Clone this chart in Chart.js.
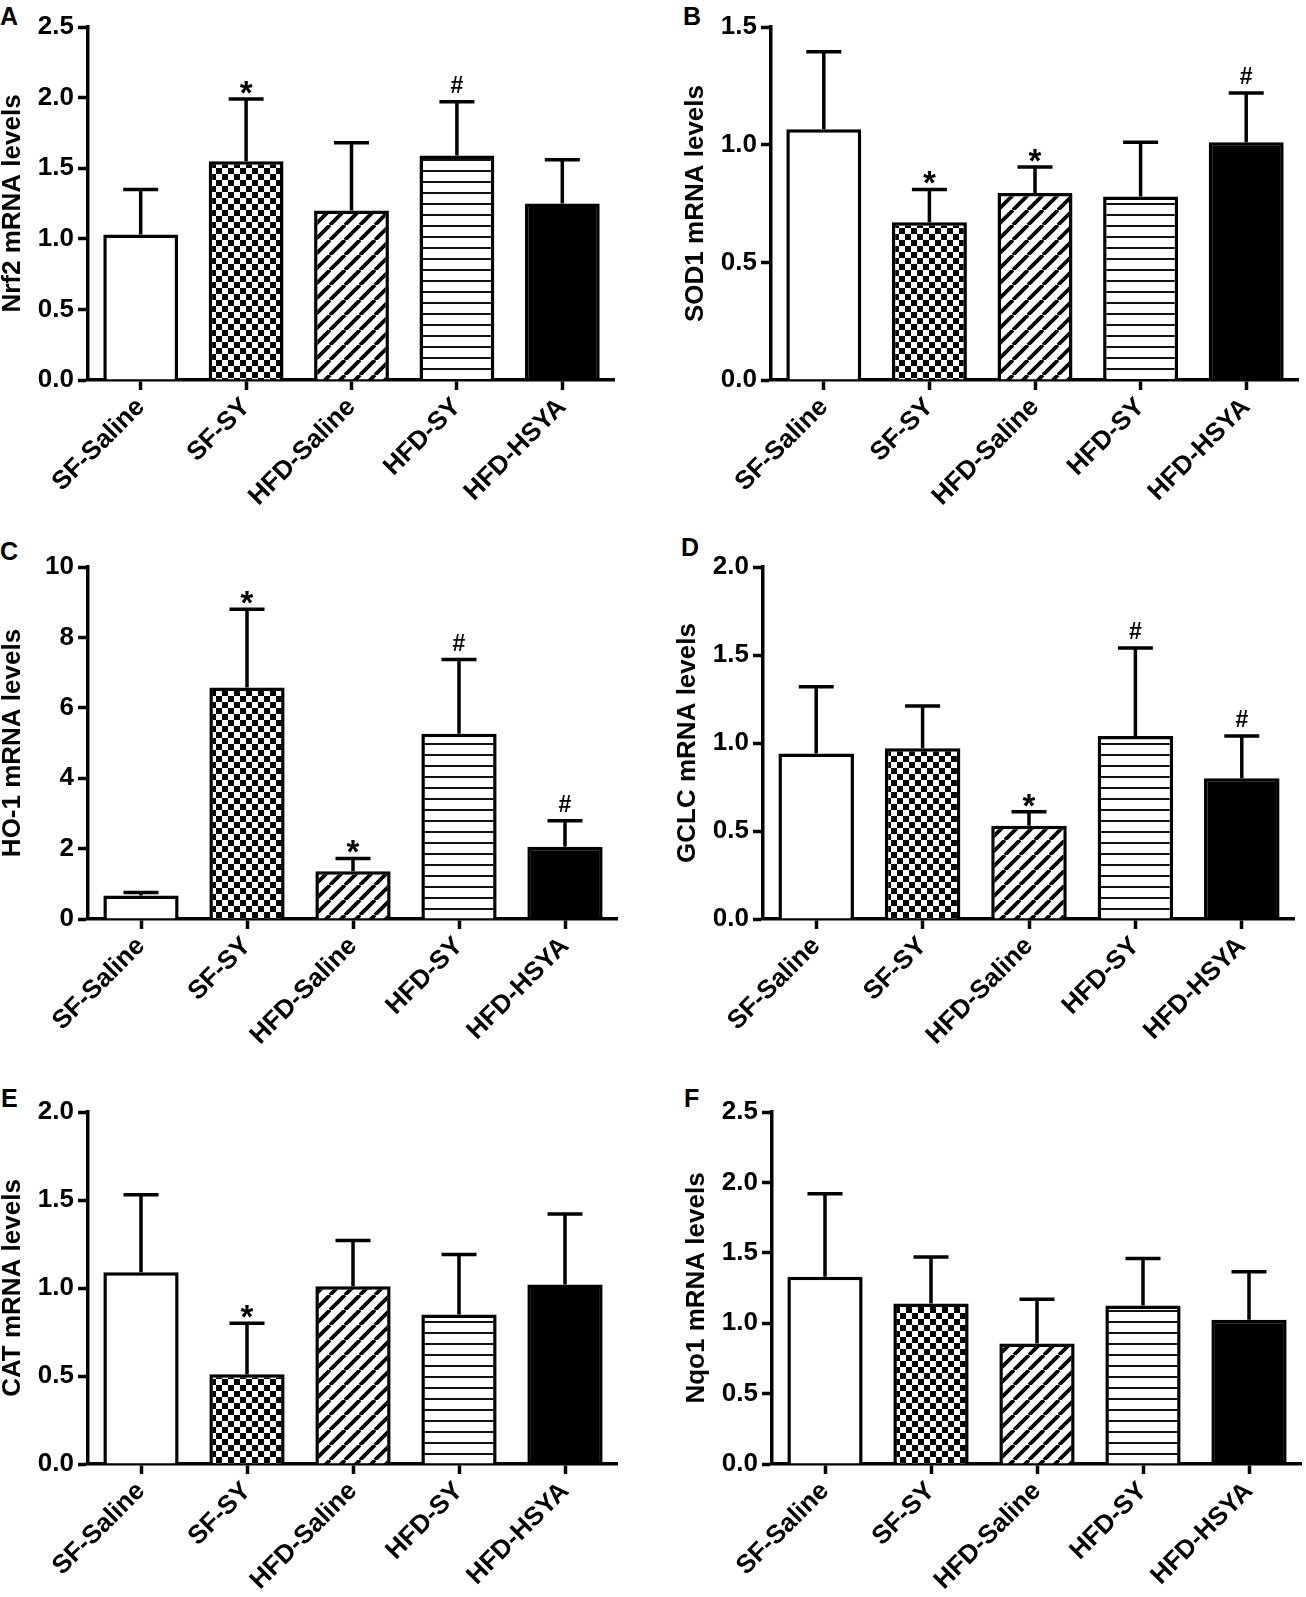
<!DOCTYPE html>
<html>
<head>
<meta charset="utf-8">
<script src="https://cdn.jsdelivr.net/npm/chart.js@4.4.1/dist/chart.umd.min.js"></script>
<style>
  html, body { margin: 0; padding: 0; background: #fff; overflow: hidden; }
  body { width: 1306px; height: 1597px; position: relative; }
  .panel { position: absolute; }
  .tag { position: absolute; font: bold 25px/1 "Liberation Sans", Arial, sans-serif; color: #000; }
</style>
</head>
<body>
<div class="tag" style="left:0;top:4px">A</div>
<div class="tag" style="left:683px;top:4px">B</div>
<div class="tag" style="left:0;top:539px">C</div>
<div class="tag" style="left:681px;top:535px">D</div>
<div class="tag" style="left:1px;top:1086px">E</div>
<div class="tag" style="left:684px;top:1086px">F</div>

<div class="panel" style="left:0;top:0;width:615px;height:520px"><canvas id="chartA"></canvas></div>
<div class="panel" style="left:683px;top:0;width:616px;height:520px"><canvas id="chartB"></canvas></div>
<div class="panel" style="left:0;top:540px;width:618px;height:519px"><canvas id="chartC"></canvas></div>
<div class="panel" style="left:675px;top:540px;width:620px;height:519px"><canvas id="chartD"></canvas></div>
<div class="panel" style="left:0;top:1085px;width:618px;height:519px"><canvas id="chartE"></canvas></div>
<div class="panel" style="left:684px;top:1085px;width:618px;height:519px"><canvas id="chartF"></canvas></div>

<script>
const groups = ['SF-Saline', 'SF-SY', 'HFD-Saline', 'HFD-SY', 'HFD-HSYA'];

// means and upper SD for each gene
const nrf2Mean = [1.03, 1.55, 1.20, 1.59, 1.25];
const nrf2Sd   = [0.32, 0.44, 0.48, 0.38, 0.31];
const nrf2Sig  = ['', '*', '', '#', ''];

const sod1Mean = [1.065, 0.67, 0.795, 0.78, 1.01];
const sod1Sd   = [0.33, 0.14, 0.11, 0.23, 0.21];
const sod1Sig  = ['', '*', '*', '', '#'];

const ho1Mean = [0.67, 6.58, 1.36, 5.26, 2.05];
const ho1Sd   = [0.08, 2.22, 0.36, 2.11, 0.74];
const ho1Sig  = ['', '*', '*', '#', '#'];

const gclcMean = [0.94, 0.97, 0.53, 1.04, 0.80];
const gclcSd   = [0.38, 0.24, 0.08, 0.50, 0.24];
const gclcSig  = ['', '', '*', '#', '#'];

const catMean = [1.09, 0.51, 1.01, 0.85, 1.02];
const catSd   = [0.44, 0.29, 0.26, 0.34, 0.40];
const catSig  = ['', '*', '', '', ''];

const nqo1Mean = [1.33, 1.14, 0.855, 1.125, 1.025];
const nqo1Sd   = [0.59, 0.33, 0.315, 0.335, 0.34];
const nqo1Sig  = ['', '', '', '', ''];

const FONT = '"Liberation Sans", Arial, sans-serif';

function tile(w, h, draw) {
  const c = document.createElement('canvas');
  c.width = w; c.height = h;
  const g = c.getContext('2d');
  g.fillStyle = '#fff';
  g.fillRect(0, 0, w, h);
  g.fillStyle = '#000';
  g.strokeStyle = '#000';
  draw(g, w, h);
  return c;
}

const checkerTile = tile(12, 12, (g) => {
  g.fillRect(0, 0, 6, 6);
  g.fillRect(6, 6, 6, 6);
});
const diagTile = tile(15, 15, (g, s) => {
  g.lineWidth = 3.8;
  g.beginPath();
  for (let k = -1; k <= 1; k++) {
    g.moveTo(k * s, s);
    g.lineTo(k * s + s, 0);
  }
  g.stroke();
});
const lineTile = tile(4, 11, (g, w) => {
  g.fillStyle = '#111';
  g.fillRect(0, 5, w, 2);
});

const errorBars = {
  id: 'errorBars',
  afterDatasetsDraw(chart, args, opts) {
    const { ctx, scales: { y } } = chart;
    const meta = chart.getDatasetMeta(0);
    const values = chart.data.datasets[0].data;
    ctx.save();
    ctx.strokeStyle = '#000';
    ctx.fillStyle = '#000';
    ctx.lineWidth = 3.5;
    meta.data.forEach((bar, i) => {
      const top = y.getPixelForValue(values[i] + opts.sd[i]);
      const base = y.getPixelForValue(values[i]);
      ctx.beginPath();
      ctx.moveTo(bar.x, base);
      ctx.lineTo(bar.x, top);
      ctx.moveTo(bar.x - 17.5, top);
      ctx.lineTo(bar.x + 17.5, top);
      ctx.stroke();
      const m = opts.marks[i];
      ctx.textAlign = 'center';
      ctx.textBaseline = 'alphabetic';
      if (m === '*') {
        ctx.font = 'bold 33px ' + FONT;
        ctx.fillText('*', bar.x, top + 5);
      } else if (m === '#') {
        ctx.font = 'bold 23px ' + FONT;
        ctx.fillText('#', bar.x, top - 9);
      }
    });
    ctx.restore();
  }
};

function makeChart(id, title, means, sds, marks, yMax, step, decimals) {
  const ctx = document.getElementById(id).getContext('2d');
  return new Chart(ctx, {
    type: 'bar',
    data: {
      labels: groups,
      datasets: [{
        data: means,
        backgroundColor: [
          '#ffffff',
          ctx.createPattern(checkerTile, 'repeat'),
          ctx.createPattern(diagTile, 'repeat'),
          ctx.createPattern(lineTile, 'repeat'),
          '#000000'
        ],
        borderColor: '#000',
        borderWidth: 3.5,
        borderSkipped: 'start',
        barPercentage: 0.71,
        categoryPercentage: 1.0
      }]
    },
    options: {
      responsive: true,
      maintainAspectRatio: false,
      animation: false,
      layout: { padding: { top: 27, left: 0, right: 0, bottom: 0 } },
      plugins: {
        legend: { display: false },
        tooltip: { enabled: false },
        errorBars: { sd: sds, marks: marks }
      },
      scales: {
        x: {
          offset: true,
          afterFit: s => { s.height = 140; },
          border: { display: true, color: '#000', width: 3.5 },
          grid: { display: true, offset: false, drawOnChartArea: false, drawTicks: true,
                  tickLength: 10, tickWidth: 3.5, tickColor: '#000' },
          ticks: {
            color: '#000', minRotation: 45, maxRotation: 45, padding: 2,
            font: { family: FONT, size: 26, weight: 'bold' }
          }
        },
        y: {
          min: 0,
          max: yMax,
          afterFit: s => { s.width = 88; },
          border: { display: true, color: '#000', width: 3.5 },
          grid: { display: true, drawOnChartArea: false, drawTicks: true,
                  tickLength: 10, tickWidth: 3.5, tickColor: '#000' },
          ticks: {
            stepSize: step, color: '#000', padding: 4,
            font: { family: FONT, size: 26, weight: 'bold' },
            callback: v => Number(v).toFixed(decimals)
          },
          title: {
            display: true, text: title, color: '#000', padding: 0,
            font: { family: FONT, size: 26, weight: 'bold', lineHeight: 1 }
          }
        }
      }
    },
    plugins: [errorBars]
  });
}

makeChart('chartA', 'Nrf2 mRNA levels', nrf2Mean, nrf2Sd, nrf2Sig, 2.5, 0.5, 1);
makeChart('chartB', 'SOD1 mRNA levels', sod1Mean, sod1Sd, sod1Sig, 1.5, 0.5, 1);
makeChart('chartC', 'HO-1 mRNA levels', ho1Mean, ho1Sd, ho1Sig, 10, 2, 0);
makeChart('chartD', 'GCLC mRNA levels', gclcMean, gclcSd, gclcSig, 2.0, 0.5, 1);
makeChart('chartE', 'CAT mRNA levels', catMean, catSd, catSig, 2.0, 0.5, 1);
makeChart('chartF', 'Nqo1 mRNA levels', nqo1Mean, nqo1Sd, nqo1Sig, 2.5, 0.5, 1);
</script>
</body>
</html>
